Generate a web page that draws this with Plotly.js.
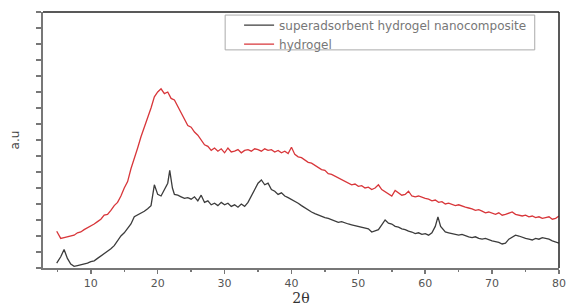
<!DOCTYPE html>
<html>
<head>
<meta charset="utf-8">
<script src="https://cdn.plot.ly/plotly-3.0.1.min.js"></script>
<style>html,body{margin:0;padding:0;background:#fff;}#chart{width:568px;height:307px;}</style>
</head>
<body>
<div id="chart"></div>
<script>
// 2-theta positions and intensities (a.u.)
const hydrogelX = [4.9,5.5,6,6.5,7,7.5,8,8.5,9,9.5,10,10.5,11,11.5,12,12.5,13,13.5,14,14.5,15,15.5,16,16.5,17,17.5,18,18.5,19,19.5,20,20.5,21,21.5,22,22.5,23,23.5,24,24.5,25,25.5,26,26.5,27,27.5,28,28.5,29,29.5,30,30.5,31,31.5,32,32.5,33,33.5,34,34.5,35,35.5,36,36.5,37,37.5,38,38.5,39,39.5,40,40.5,41,41.5,42,42.5,43,43.5,44,44.5,45,45.5,46,46.5,47,47.5,48,48.5,49,49.5,50,50.5,51,51.5,52,52.5,53,53.5,54,54.5,55,55.5,56,56.5,57,57.5,58,58.5,59,59.5,60,60.5,61,61.5,62,62.5,63,63.5,64,64.5,65,65.5,66,66.5,67,67.5,68,68.5,69,69.5,70,70.5,71,71.5,72,72.5,73,73.5,74,74.5,75,75.5,76,76.5,77,77.5,78,78.5,79,79.5,80];
const hydrogelY = [2.3,1.85,1.9,1.95,2.0,2.05,2.2,2.25,2.4,2.5,2.6,2.75,2.9,3.05,3.3,3.35,3.6,3.9,4.1,4.5,5.0,5.4,6.2,6.8,7.5,8.2,8.8,9.3,10.0,10.7,11.0,11.2,10.9,11.0,10.6,10.5,10.1,9.7,9.3,8.9,8.8,8.5,8.3,8.0,7.7,7.6,7.35,7.5,7.3,7.45,7.2,7.5,7.25,7.3,7.4,7.2,7.35,7.4,7.3,7.45,7.4,7.3,7.45,7.35,7.4,7.25,7.35,7.2,7.3,7.15,7.55,7.1,6.95,6.9,6.75,6.6,6.55,6.4,6.3,6.15,6.1,5.9,5.85,5.75,5.6,5.5,5.4,5.35,5.2,5.25,5.1,5.15,5.0,5.05,4.9,5.0,5.2,4.9,4.75,4.6,4.5,4.85,4.7,4.55,4.6,4.8,4.5,4.45,4.5,4.4,4.35,4.3,4.2,4.25,4.1,4.15,4.0,4.05,3.95,3.9,3.95,3.85,3.8,3.75,3.7,3.6,3.65,3.55,3.45,3.5,3.4,3.35,3.45,3.3,3.35,3.45,3.5,3.35,3.3,3.25,3.3,3.2,3.25,3.15,3.2,3.1,3.15,3.2,3.05,3.1,3.25];

const nanoX = [4.9,5.5,6,6.5,7,7.5,8,8.5,9,9.5,10,10.5,11,11.5,12,12.5,13,13.5,14,14.5,15,15.5,16,16.5,17,17.5,18,18.5,19,19.5,20,20.5,21,21.5,21.8,22.2,22.5,23,23.5,24,24.5,25,25.5,26,26.5,27,27.5,28,28.5,29,29.5,30,30.5,31,31.5,32,32.5,33,33.5,34,34.5,35,35.5,36,36.5,37,37.5,38,38.5,39,39.5,40,40.5,41,41.5,42,42.5,43,43.5,44,44.5,45,45.5,46,46.5,47,47.5,48,48.5,49,49.5,50,50.5,51,51.5,52,52.5,53,53.5,54,54.5,55,55.5,56,56.5,57,57.5,58,58.5,59,59.5,60,60.5,61,61.5,61.9,62.3,62.8,63,63.5,64,64.5,65,65.5,66,66.5,67,67.5,68,68.5,69,69.5,70,70.5,71,71.5,72,72.5,73,73.5,74,74.5,75,75.5,76,76.5,77,77.5,78,78.5,79,79.5,80];
const nanoY = [0.3,0.7,1.15,0.6,0.25,0.1,0.15,0.2,0.25,0.3,0.4,0.45,0.6,0.75,0.85,1.0,1.2,1.4,1.7,2.0,2.2,2.5,2.75,3.2,3.3,3.4,3.55,3.7,3.9,5.2,4.6,4.5,4.9,5.3,6.1,5.0,4.6,4.55,4.45,4.35,4.4,4.3,4.45,4.2,4.55,4.1,4.2,3.95,4.05,3.9,4.1,3.95,4.05,3.85,3.95,3.8,4.0,3.85,4.1,4.5,4.9,5.3,5.5,5.2,5.3,4.9,4.8,4.6,4.7,4.5,4.4,4.3,4.2,4.05,3.9,3.75,3.6,3.5,3.4,3.3,3.2,3.15,3.1,3.0,2.95,2.85,2.9,2.8,2.75,2.7,2.65,2.6,2.55,2.5,2.45,2.25,2.35,2.4,2.7,3.0,2.8,2.75,2.6,2.55,2.45,2.4,2.3,2.25,2.15,2.2,2.1,2.15,2.05,2.2,2.6,3.2,2.6,2.3,2.25,2.2,2.15,2.1,2.05,2.1,2.0,1.95,1.9,1.95,1.85,1.8,1.85,1.75,1.7,1.65,1.6,1.5,1.55,1.8,1.9,2.05,2.0,1.9,1.85,1.8,1.75,1.85,1.8,1.9,1.85,1.8,1.7,1.6,1.55];

const seriesNames = ["superadsorbent hydrogel nanocomposite", "hydrogel"];
const xTickVals = [10,20,30,40,50,60,70,80];
const xTitle = "2θ";
const yTitle = "a.u";

const traces = [
  {x: nanoX, y: nanoY, name: seriesNames[0], type: "scatter", mode: "lines",
   line: {color: "#3c3c3c", width: 1.3}},
  {x: hydrogelX, y: hydrogelY, name: seriesNames[1], type: "scatter", mode: "lines",
   line: {color: "#d8363a", width: 1.3}}
];

const layout = {
  width: 568, height: 307,
  margin: {l: 43, r: 9, t: 12, b: 39},
  paper_bgcolor: "#fff", plot_bgcolor: "#fff",
  showlegend: true,
  legend: {x: 0.38, y: 1.005, xanchor: "left", yanchor: "top",
    bgcolor: "rgba(0,0,0,0)", borderwidth: 0,
    font: {family: "DejaVu Sans", size: 12, color: "#777"},
    tracegroupgap: 0},
  xaxis: {range: [2.85, 80], showgrid: false, zeroline: false,
    showline: true, linecolor: "#777", linewidth: 2,
    tickmode: "array", tickvals: xTickVals, ticks: "outside", ticklen: 4, tickcolor: "#777", tickwidth: 1.5,
    minor: {dtick: 5, tick0: 5, ticks: "outside", ticklen: 2, tickcolor: "#777"},
    tickfont: {family: "DejaVu Sans", size: 11, color: "#555"},
    title: {text: xTitle, font: {family: "DejaVu Serif", size: 14, color: "#333"}, standoff: 0}},
  yaxis: {range: [0, 16], showgrid: false, zeroline: false,
    showline: true, linecolor: "#777", linewidth: 2,
    dtick: 1, ticks: "outside", ticklen: 5, tickcolor: "#777", tickwidth: 1.5,
    showticklabels: false,
    title: {text: yTitle, font: {family: "DejaVu Sans", size: 12, color: "#444"}, standoff: 14}},
  shapes: [
    {type: "line", xref: "paper", yref: "paper", x0: 0, x1: 1, y0: 1, y1: 1, line: {color: "#222", width: 1.5}},
    {type: "line", xref: "paper", yref: "paper", x0: 1, x1: 1, y0: 0, y1: 1, line: {color: "#222", width: 1.5}},
    {type: "rect", xref: "paper", yref: "paper", x0: 0.353, x1: 0.953, y0: 0.852, y1: 0.988, line: {color: "#aaa", width: 1}, fillcolor: "rgba(0,0,0,0)"}
  ]
};

Plotly.newPlot("chart", traces, layout, {displayModeBar: false, staticPlot: true});
</script>
</body>
</html>
